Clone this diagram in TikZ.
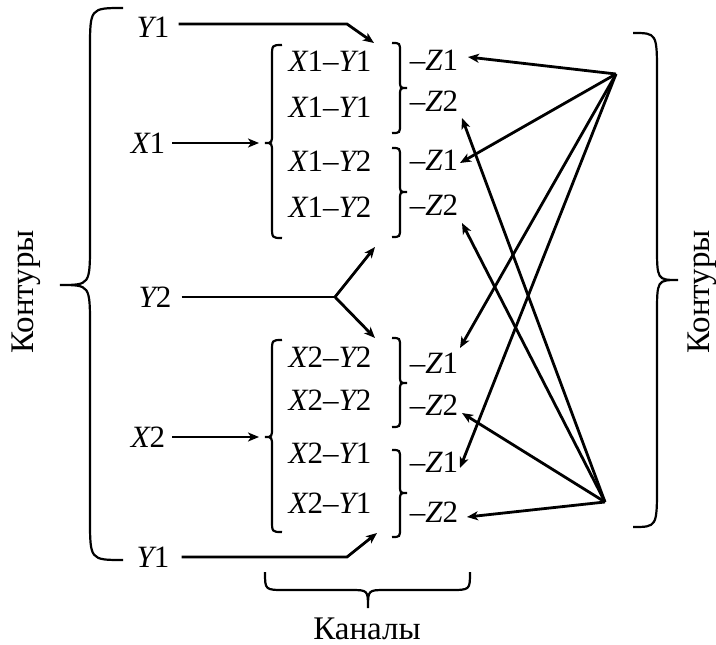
\documentclass[tikz,border=0pt]{standalone}
\usepackage{fontspec}
\setmainfont{Liberation Serif}
\usetikzlibrary{arrows.meta}
\newcommand\vbr[8]{\draw[br] (#1,#4) .. controls (#2,#4) .. (#2,#4+#7) -- (#2,#5-#8) .. controls (#2,#5) .. (#3,#5) .. controls (#2,#5) .. (#2,#5+#8) -- (#2,#6-#7) .. controls (#2,#6) .. (#1,#6);}
\newcommand\vv[1]{{\itshape #1}}
\begin{document}
\begin{tikzpicture}[x=1pt,y=-1pt,
  ln/.style={line width=2.8pt},
  arr/.style={ln,-{Stealth[length=11pt,width=9pt,inset=3pt]}},
  br/.style={line width=2.2pt},
  lab/.style={inner sep=0pt,font=\fontsize{31}{35}\selectfont},
  big/.style={inner sep=0pt,font=\fontsize{33}{38}\selectfont},
]
\useasboundingbox[fill=white] (0,0) rectangle (716,645);
% big braces
\vbr{123}{90}{60}{8}{285}{560}{42}{42}
\vbr{633}{657}{678}{33}{280}{527}{42}{35}
% channel braces
\vbr{282}{272}{265}{45}{143}{238}{12}{10}
\vbr{282}{272}{265}{340}{437}{532}{12}{10}
\vbr{392}{400}{407}{43}{88}{133}{9}{8}
\vbr{392}{400}{407}{148}{192}{237}{9}{8}
\vbr{392}{400}{407}{338}{383}{427}{9}{8}
\vbr{392}{400}{407}{450}{493}{537}{9}{8}
\draw[br] (265,572) .. controls (265,590) .. (285,590) -- (350,590) .. controls (368,590) .. (368,608) .. controls (368,590) .. (386,590) -- (450,590) .. controls (470,590) .. (470,572);
% side labels
\node[big,rotate=90] (kl) at (26,292) {Контуры};
\node[big,rotate=90] (kr) at (702,292) {Контуры};
\node[big,anchor=base] (kan) at (367,639) {Каналы};
% inputs
\node[lab] (y1t) at (153,27) {\vv{Y}1};
\node[lab] (x1) at (148,143) {\vv{X}1};
\node[lab] (y2) at (155,297) {\vv{Y}2};
\node[lab] (x2) at (148,437) {\vv{X}2};
\node[lab] (y1b) at (153,557) {\vv{Y}1};
% channels
\node[lab] (c1) at (330,61) {\vv{X}1–\vv{Y}1};
\node[lab] (c2) at (330,107) {\vv{X}1–\vv{Y}1};
\node[lab] (c3) at (330,161) {\vv{X}1–\vv{Y}2};
\node[lab] (c4) at (330,207) {\vv{X}1–\vv{Y}2};
\node[lab] (c5) at (330,357) {\vv{X}2–\vv{Y}2};
\node[lab] (c6) at (330,400) {\vv{X}2–\vv{Y}2};
\node[lab] (c7) at (330,453) {\vv{X}2–\vv{Y}1};
\node[lab] (c8) at (330,503) {\vv{X}2–\vv{Y}1};
% outputs
\node[lab] (z1) at (434,60) {–\vv{Z}1};
\node[lab] (z2) at (434,101) {–\vv{Z}2};
\node[lab] (z3) at (434,160) {–\vv{Z}1};
\node[lab] (z4) at (434,205) {–\vv{Z}2};
\node[lab] (z5) at (434,363) {–\vv{Z}1};
\node[lab] (z6) at (434,405) {–\vv{Z}2};
\node[lab] (z7) at (434,462) {–\vv{Z}1};
\node[lab] (z8) at (434,512) {–\vv{Z}2};
% coordinates
\coordinate (a1) at (347,24); \coordinate (t1) at (374,43);
\coordinate (tx1) at (259,143);
\coordinate (j) at (335,297); \coordinate (tu) at (375,247); \coordinate (td) at (375,338);
\coordinate (tx2) at (259,437);
\coordinate (a2) at (347,557); \coordinate (t2) at (377,533);
\coordinate (P) at (616,74); \coordinate (Q) at (605,502);
\coordinate (p1) at (468,57); \coordinate (p2) at (460,163); \coordinate (p3) at (460,348); \coordinate (p4) at (460,468);
\coordinate (q1) at (462,118); \coordinate (q2) at (462,223); \coordinate (q3) at (462,413); \coordinate (q4) at (467,517);
% input arrows
\draw[arr] ([xshift=9pt,yshift=3pt]y1t.east) -- (a1) -- (t1);
\draw[arr] ([xshift=7pt]x1.east) -- (tx1);
\draw[ln] ([xshift=10pt]y2.east) -- (j);
\draw[arr] (j) -- (tu);
\draw[arr] (j) -- (td);
\draw[arr] ([xshift=7pt]x2.east) -- (tx2);
\draw[arr] ([xshift=12pt]y1b.east) -- (a2) -- (t2);
% output arrows
\foreach \t in {p1,p2,p3,p4} \draw[arr] (P) -- (\t);
\foreach \t in {q1,q2,q3,q4} \draw[arr] (Q) -- (\t);
\end{tikzpicture}
\end{document}
